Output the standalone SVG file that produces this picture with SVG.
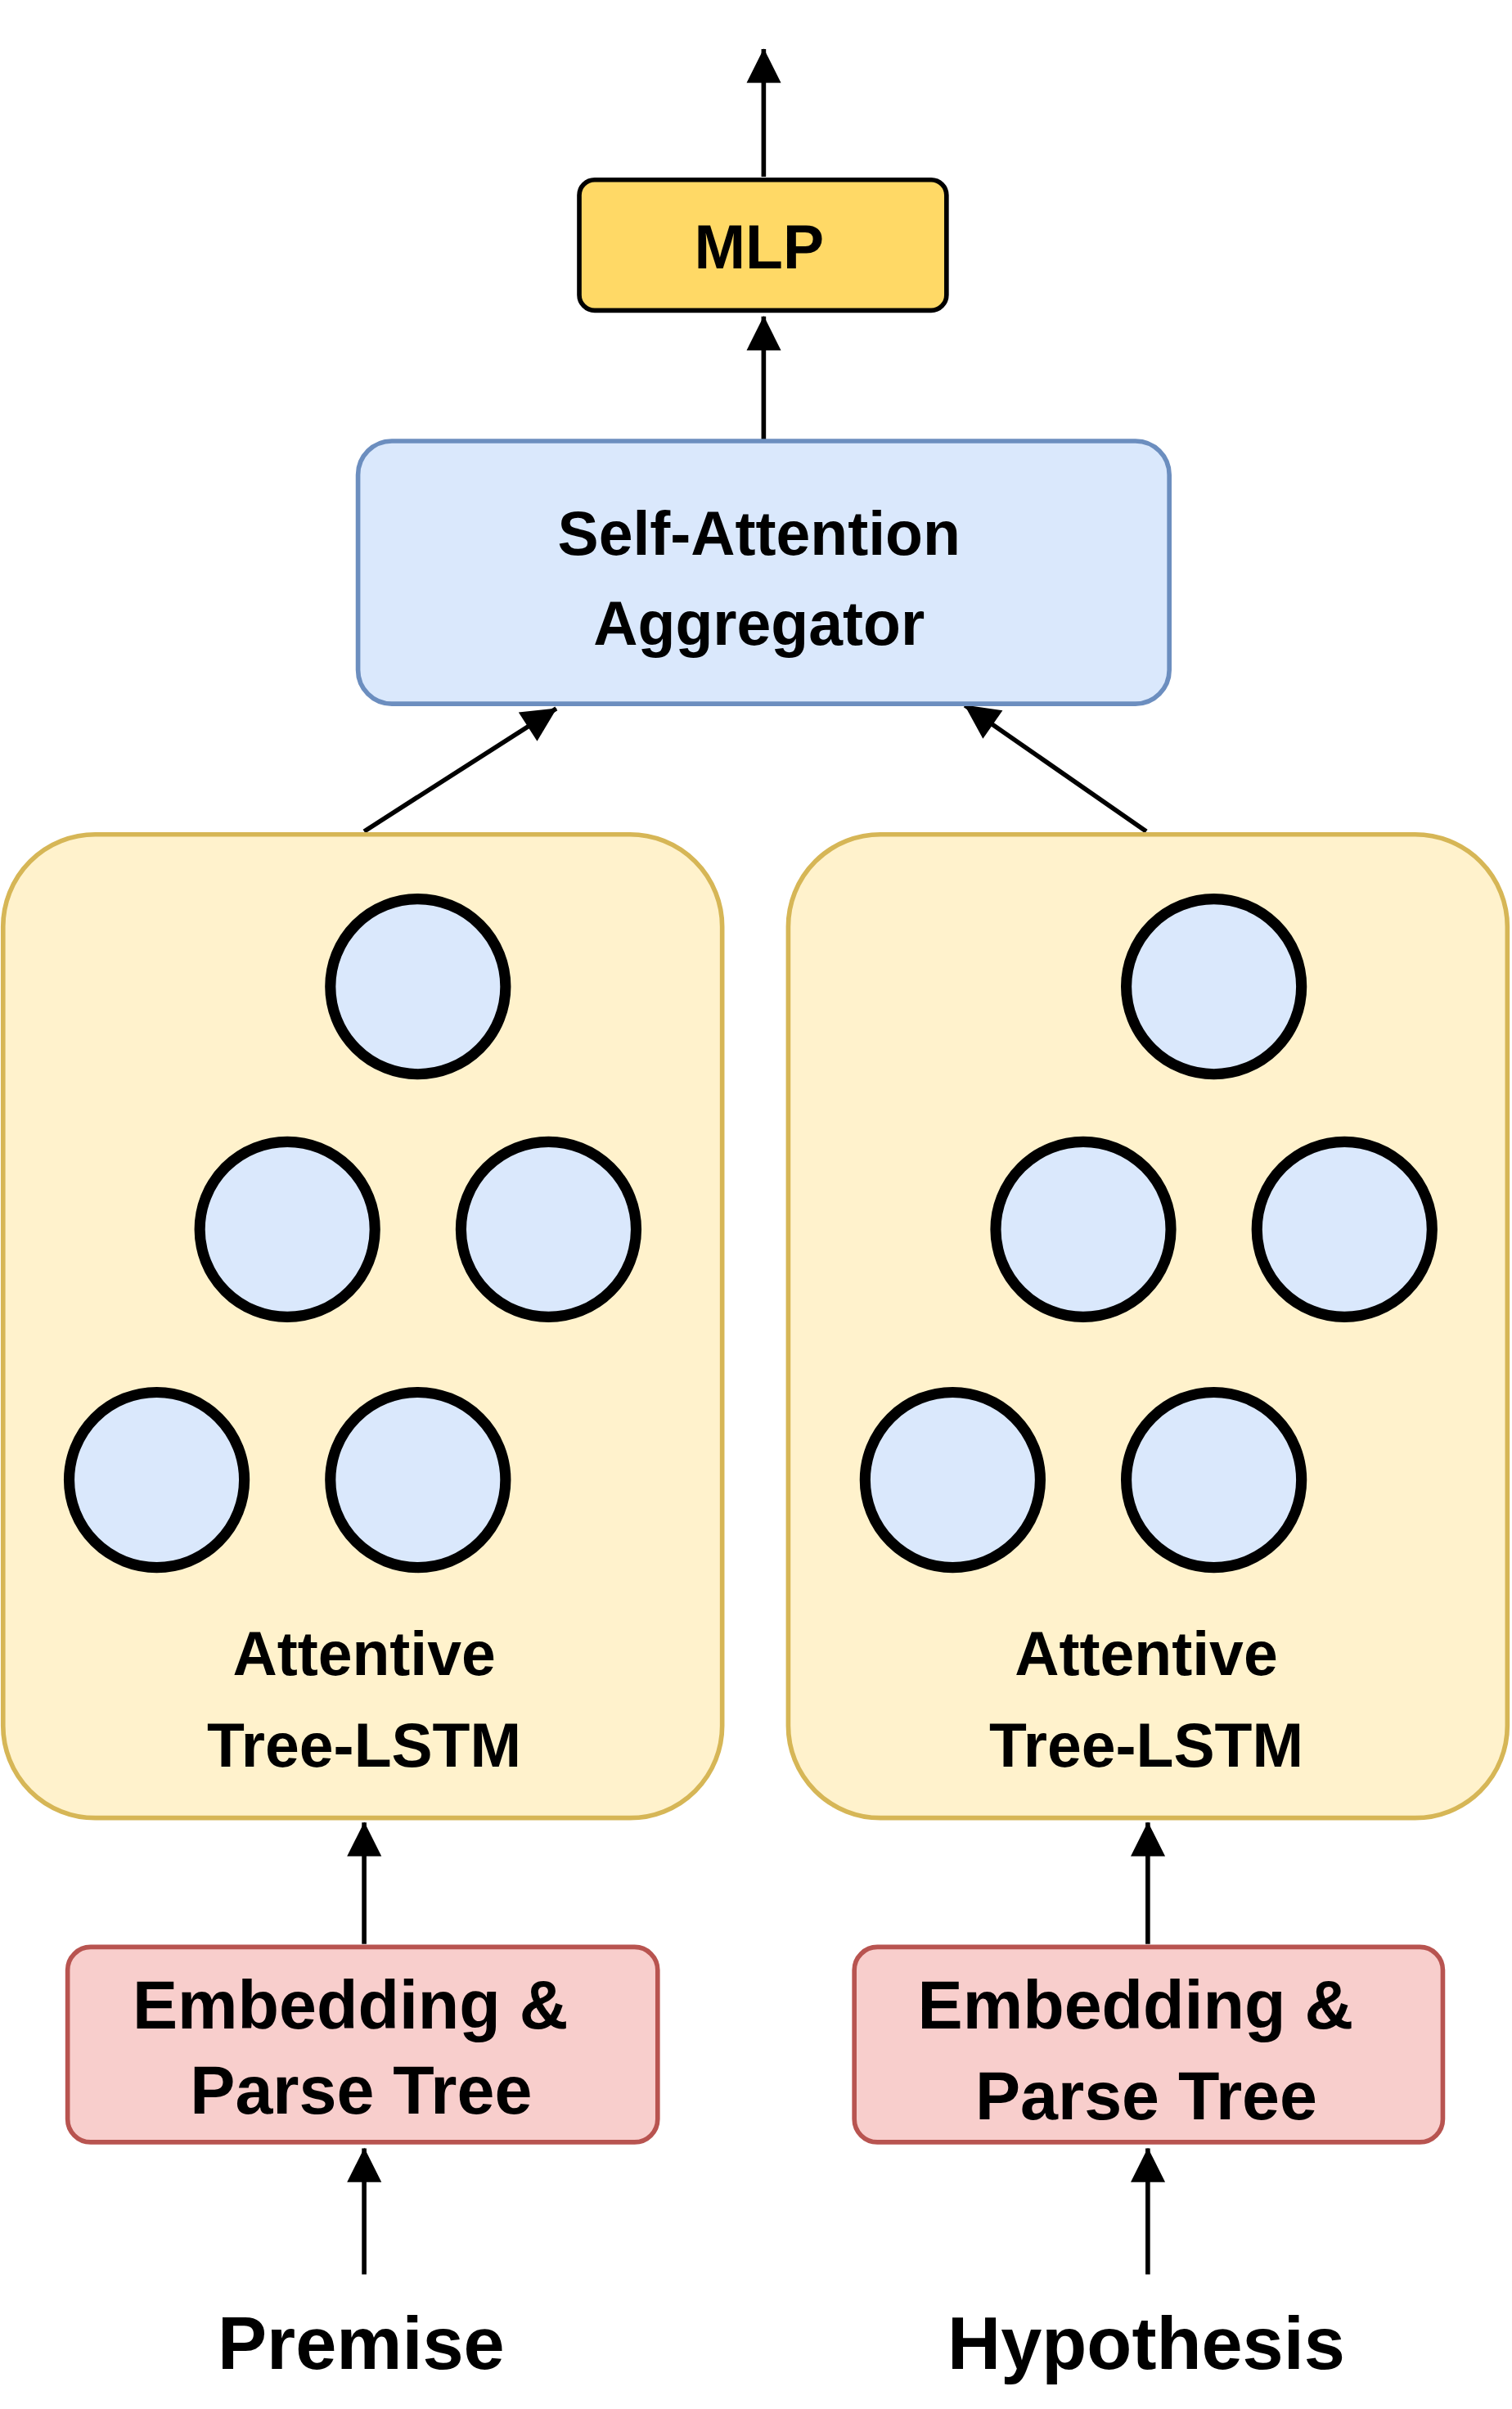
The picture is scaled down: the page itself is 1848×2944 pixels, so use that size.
<svg xmlns="http://www.w3.org/2000/svg" width="1848" height="2944" viewBox="0 0 1848 2944">
<style>
.t{font-family:"Liberation Sans",Arial,sans-serif;font-weight:bold;fill:#000;text-anchor:middle;dominant-baseline:central}
.c{fill:#DAE8FC;stroke:#000;stroke-width:7}
.e{stroke:#000;stroke-width:3;fill:none;marker-end:url(#a)}
</style>
<defs>
<marker id="a" viewBox="0 0 10 10" refX="9" refY="5" markerWidth="7" markerHeight="7" markerUnits="userSpaceOnUse" orient="auto" overflow="visible">
<path d="M0,0 L10,5 L0,10 Z" fill="#000" transform="scale(3.2) translate(-7,-3.4)"/>
</marker>
</defs>
<rect width="1848" height="2944" fill="#fff"/>
<g transform="scale(1.878)">
<g id="edges">
<path class="e" d="M497,115 L497,32"/>
<path class="e" d="M497,287 L497,206"/>
<path class="e" d="M237,541 L362,461"/>
<path class="e" d="M746,541 L628,459"/>
<path class="e" d="M190,741 L228,688"/>
<path class="e" d="M355,741 L317,686"/>
<path class="e" d="M102,905 L145,845"/>
<path class="e" d="M272,905 L230,843"/>
<path class="e" d="M708,741 L746,688"/>
<path class="e" d="M873,741 L835,686"/>
<path class="e" d="M620,905 L663,845"/>
<path class="e" d="M790,905 L748,843"/>
<path class="e" d="M237,1265 L237,1186"/>
<path class="e" d="M747,1265 L747,1186"/>
<path class="e" d="M237,1480 L237,1398"/>
<path class="e" d="M747,1480 L747,1398"/>
</g>
<g id="mlp"><rect x="377" y="117" width="239" height="85" rx="10" fill="#FFD966" stroke="#000" stroke-width="3"/><text class="t" x="494" y="161" font-size="40">MLP</text></g>
<g id="agg"><rect x="233" y="287" width="528" height="171" rx="22" fill="#DAE8FC" stroke="#6C8EBF" stroke-width="3"/><text class="t" x="494" y="347" font-size="40">Self-Attention</text><text class="t" x="494" y="406" font-size="40">Aggregator</text></g>
<g id="treeL"><rect x="2" y="543" width="468" height="640" rx="60" fill="#FFF2CC" stroke="#D6B656" stroke-width="3"/>
<circle class="c" cx="272" cy="642" r="57"/><circle class="c" cx="187" cy="800" r="57"/><circle class="c" cx="357" cy="800" r="57"/><circle class="c" cx="102" cy="963" r="57"/><circle class="c" cx="272" cy="963" r="57"/>
<text class="t" x="237" y="1076" font-size="40">Attentive</text><text class="t" x="237" y="1136" font-size="40">Tree-LSTM</text></g>
<g id="treeR"><rect x="513" y="543" width="468" height="640" rx="60" fill="#FFF2CC" stroke="#D6B656" stroke-width="3"/>
<circle class="c" cx="790" cy="642" r="57"/><circle class="c" cx="705" cy="800" r="57"/><circle class="c" cx="875" cy="800" r="57"/><circle class="c" cx="620" cy="963" r="57"/><circle class="c" cx="790" cy="963" r="57"/>
<text class="t" x="746" y="1076" font-size="40">Attentive</text><text class="t" x="746" y="1136" font-size="40">Tree-LSTM</text></g>
<g id="embL"><rect x="44" y="1267" width="384" height="127" rx="15" fill="#F8CECC" stroke="#B85450" stroke-width="3"/><text class="t" x="228" y="1305" font-size="44">Embedding &amp;</text><text class="t" x="235" y="1360" font-size="44">Parse Tree</text></g>
<g id="embR"><rect x="556" y="1267" width="383" height="127" rx="15" fill="#F8CECC" stroke="#B85450" stroke-width="3"/><text class="t" x="739" y="1305" font-size="44">Embedding &amp;</text><text class="t" x="746" y="1364" font-size="44">Parse Tree</text></g>
<g id="premise"><text class="t" x="235" y="1525" font-size="48">Premise</text></g>
<g id="hypothesis"><text class="t" x="746" y="1525" font-size="48">Hypothesis</text></g>
</g>
</svg>
